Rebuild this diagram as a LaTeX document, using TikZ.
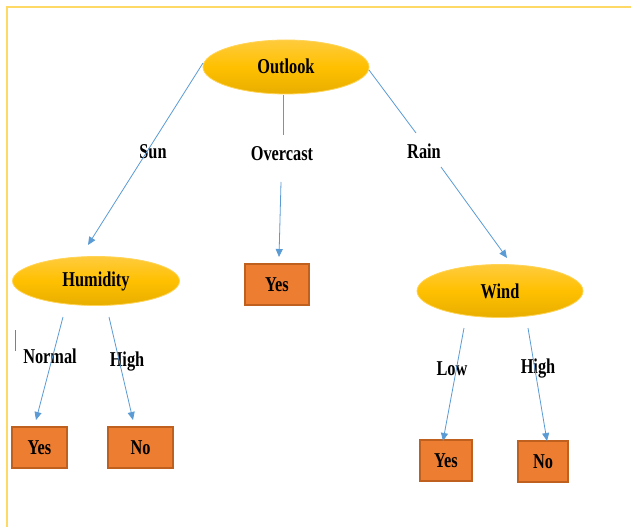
\documentclass[tikz,border=0pt]{standalone}
\usepackage{fontspec}
\setmainfont{Liberation Serif}
\usetikzlibrary{shapes.geometric,arrows.meta}
\definecolor{frame}{HTML}{FFD966}
\definecolor{goldtop}{HTML}{FFCB3D}
\definecolor{goldmid}{HTML}{FFC000}
\definecolor{goldbot}{HTML}{E8AE00}
\definecolor{goldedge}{HTML}{FFD456}
\definecolor{boxfill}{HTML}{ED7D31}
\definecolor{boxedge}{HTML}{C0601E}
\definecolor{link}{HTML}{5B9BD5}
\newcommand{\tx}[1]{\scalebox{1.02}[1.32]{\fontsize{16bp}{18bp}\selectfont\bfseries #1}}
\tikzset{
  decision/.style={ellipse, draw=goldedge, line width=0.8bp, top color=goldtop, bottom color=goldbot, middle color=goldmid, inner sep=0pt},
  leafbox/.style={rectangle, draw=boxedge, line width=1.3bp, fill=boxfill, inner sep=0pt},
  link/.style={draw=link, line width=0.8bp},
  linkarrow/.style={link, -{Triangle[length=8bp,width=7bp]}},
  edgelabel/.style={inner sep=0pt, font=\bfseries},
}
\begin{document}
\begin{tikzpicture}[x=1bp,y=-1bp]
\useasboundingbox (0,0) rectangle (631,527);
\fill[white] (0,0) rectangle (631,527);
% frame
\draw[frame, line width=2.2bp] (7,527) -- (7,7) -- (631,7);
% cursor mark
\draw[gray, line width=0.8bp] (15,330) -- (15,351);

% nodes
\node[decision, minimum width=166bp, minimum height=54bp] (outlook) at (286,67) {\raisebox{2bp}{\tx{Outlook}}};
\node[decision, minimum width=167bp, minimum height=49bp] (humidity) at (96,281) {\tx{Humidity}};
\node[decision, minimum width=166bp, minimum height=53bp] (wind) at (500,291) {\tx{Wind}};
\node[leafbox, minimum width=64bp, minimum height=41bp] (yesmid) at (277,284.5) {\tx{Yes}};
\node[leafbox, minimum width=55bp, minimum height=41bp] (yesleft) at (39.5,447.5) {\tx{Yes}};
\node[leafbox, minimum width=65bp, minimum height=41bp] (noleft) at (140.5,447.5) {\tx{No}};
\node[leafbox, minimum width=52bp, minimum height=41bp] (yesright) at (446,460.5) {\tx{Yes}};
\node[leafbox, minimum width=50bp, minimum height=41bp] (noright) at (543,461.5) {\tx{No}};

% connector end points
\coordinate (osun) at (203,63);
\coordinate (hsun) at (88,245);
\coordinate (oover) at (283,95);
\coordinate (aover) at (279,257);
\coordinate (orain) at (369,70);
\coordinate (wrain) at (507,258);
\coordinate (hnorm) at (63,317);
\coordinate (ynorm) at (36,420);
\coordinate (hhigh) at (109,317);
\coordinate (nhigh) at (133,420);
\coordinate (wlow) at (464,328);
\coordinate (ylow) at (443,441);
\coordinate (whigh) at (528,328);
\coordinate (nwhigh) at (547,441);

% labels
\node[edgelabel] (lsun) at (153,152) {\tx{Sun}};
\node[edgelabel] (lover) at (282,154) {\tx{Overcast}};
\node[edgelabel] (lrain) at (424,151) {\tx{Rain}};
\node[edgelabel] (lnorm) at (50,356) {\tx{Normal}};
\node[edgelabel] (lhigh) at (127,362) {\tx{High}};
\node[edgelabel] (llow) at (452,369) {\tx{Low}};
\node[edgelabel] (lwhigh) at (538,369) {\tx{High}};

% connectors
\draw[linkarrow] (osun) -- (hsun);
\draw[link] (oover) -- (283,135);
\draw[linkarrow] (281,182) -- (aover);
\draw[link] (orain) -- (416,133);
\draw[linkarrow] (441,167) -- (wrain);
\draw[linkarrow] (hnorm) -- (ynorm);
\draw[linkarrow] (hhigh) -- (nhigh);
\draw[linkarrow] (wlow) -- (ylow);
\draw[linkarrow] (whigh) -- (nwhigh);
\end{tikzpicture}
\end{document}
